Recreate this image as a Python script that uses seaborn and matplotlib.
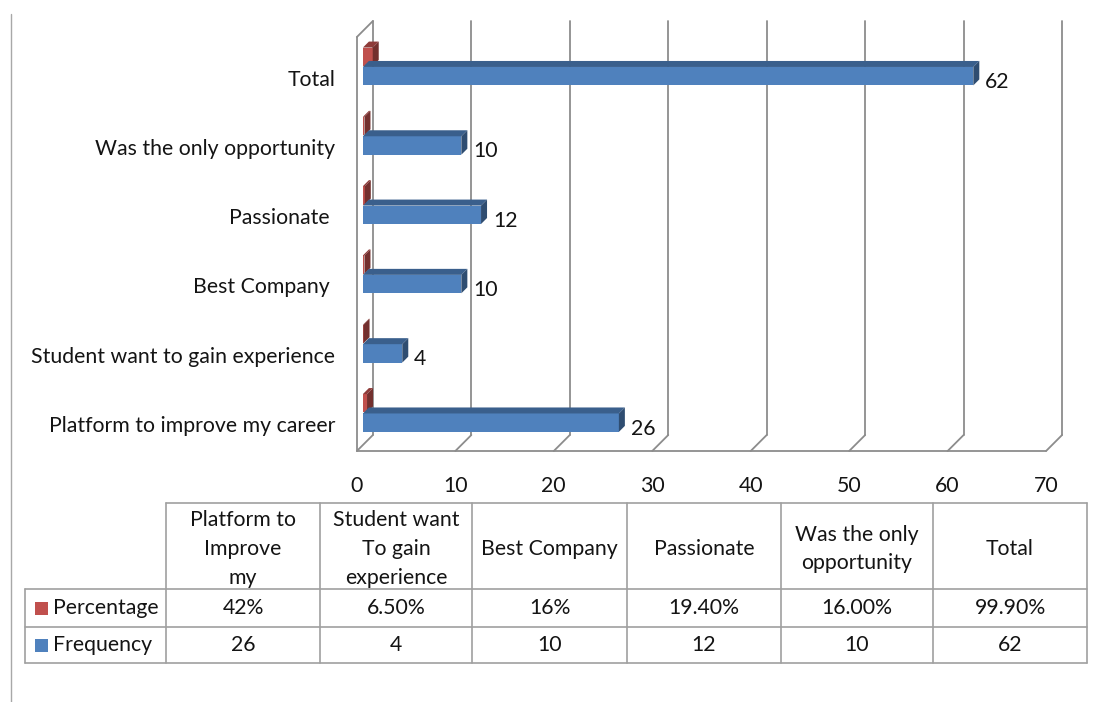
import matplotlib
matplotlib.use("Agg")
import matplotlib.pyplot as plt
from matplotlib.patches import Polygon, Rectangle
import seaborn as sns
import pandas as pd

# ---- data -------------------------------------------------------------
categories = ["Platform to improve my career", "Student want to gain experience",
              "Best Company ", "Passionate ", "Was the only opportunity", "Total"]
table_headers = ["Platform to\nImprove\nmy", "Student want\nTo gain\nexperience",
                 "Best Company", "Passionate", "Was the only\nopportunity", "Total"]
frequency = [26, 4, 10, 12, 10, 62]
percentage_labels = ["42%", "6.50%", "16%", "19.40%", "16.00%", "99.90%"]
series_names = ["Percentage", "Frequency"]
x_ticks = [0, 10, 20, 30, 40, 50, 60, 70]

percentage = [float(s.rstrip("%")) / 100 for s in percentage_labels]

df = pd.DataFrame({
    "category": categories * 2,
    "series": [series_names[0]] * len(categories) + [series_names[1]] * len(categories),
    "value": percentage + frequency,
})

# ---- style ------------------------------------------------------------
RED = "#C0504D"
BLUE = "#4F81BD"
GRID = "#8C8C8C"
TABLE_LINE = "#A0A0A0"
TEXT = "#141414"
FS = 15.3

sns.set_style("white")
plt.rcParams["font.family"] = ["Lato", "DejaVu Sans"]
plt.rcParams["text.color"] = TEXT
plt.rcParams["xtick.color"] = TEXT
plt.rcParams["ytick.color"] = TEXT

W, H = 1095, 702
fig = plt.figure(figsize=(W / 100, H / 100), dpi=100)


def px_box(left, top, right, bottom):
    return [left / W, 1 - bottom / H, (right - left) / W, (bottom - top) / H]


XMIN, XMAX = -0.7, 70.5
YTOP, YBOT = -0.512, 5.462
ax = fig.add_axes(px_box(356, 31, 1057, 445))

BAR_WIDTH = 0.56
sns.barplot(data=df, x="value", y="category", hue="series",
            order=categories[::-1], hue_order=series_names,
            palette=[RED, BLUE], orient="h", width=BAR_WIDTH, gap=0.05,
            saturation=1, errorbar=None, legend=False, ax=ax, linewidth=0)

ax.set_xlim(XMIN, XMAX)
ax.set_ylim(YBOT, YTOP)
for s in ax.spines.values():
    s.set_visible(False)
ax.set_xlabel("")
ax.set_ylabel("")


def data_offset(dx_px, dy_px):
    """Convert a pixel shift (right, down) to a data-space shift."""
    x0, y0 = ax.transData.transform((0, 0))
    x1, y1 = ax.transData.inverted().transform((x0 + dx_px, y0 - dy_px))
    return x1, y1


# planes of the 3-D box: front floor edge and back wall
fdx, fdy = data_offset(-6, 6)
bdx, bdy = data_offset(10, -10)

line_kw = dict(color=GRID, lw=1.3, clip_on=False, zorder=0.5, solid_capstyle="round")
# front floor edge
ax.plot([0 + fdx, 70 + fdx], [YBOT + fdy, YBOT + fdy], **line_kw)
for t in x_ticks:
    # floor diagonal and back-wall gridline
    ax.plot([t + fdx, t + bdx], [YBOT + fdy, YBOT + bdy], **line_kw)
    ax.plot([t + bdx, t + bdx], [YBOT + bdy, YTOP + bdy], **line_kw)
# left wall
ax.plot([0 + fdx, 0 + fdx], [YBOT + fdy, YTOP + fdy], **line_kw)
ax.plot([0 + fdx, 0 + bdx], [YTOP + fdy, YTOP + bdy], **line_kw)

# depth faces for the bars
ddx, ddy = data_offset(6, -6)


def shade(hex_color, f):
    r, g, b = matplotlib.colors.to_rgb(hex_color)
    return (r * f, g * f, b * f)


blue_rgb = matplotlib.colors.to_rgb(BLUE)
blue_bars = []
for p in list(ax.patches):
    x0, y0 = p.get_x(), p.get_y()
    w, h = p.get_width(), p.get_height()
    base = p.get_facecolor()[:3]
    is_blue = all(abs(a - b) < 0.02 for a, b in zip(base, blue_rgb))
    if is_blue:
        blue_bars.append(p)
    col = BLUE if is_blue else RED
    top = Polygon([(x0, y0), (x0 + w, y0), (x0 + w + ddx, y0 + ddy), (x0 + ddx, y0 + ddy)],
                  closed=True, facecolor=shade(col, 0.74), edgecolor="none",
                  clip_on=False, zorder=2)
    side = Polygon([(x0 + w, y0), (x0 + w, y0 + h), (x0 + w + ddx, y0 + h + ddy),
                    (x0 + w + ddx, y0 + ddy)],
                   closed=True, facecolor=shade(col, 0.6), edgecolor="none",
                   clip_on=False, zorder=2)
    ax.add_patch(top)
    ax.add_patch(side)
    p.set_zorder(2)
    p.set_clip_on(False)

# value labels on the frequency bars
for p in blue_bars:
    ax.annotate(f"{p.get_width():g}", xy=(p.get_width(), p.get_y() + p.get_height() / 2),
                xytext=(12 * 0.72, -6 * 0.72), textcoords="offset points",
                ha="left", va="center", fontsize=FS, color=TEXT, annotation_clip=False)

# category labels aligned with the frequency bars
ax.set_yticks([k + BAR_WIDTH / 4 + 0.02 for k in range(len(categories))],
              labels=categories[::-1])
ax.tick_params(axis="y", length=0, pad=15, labelsize=FS)

ax.set_xticks([t + fdx for t in x_ticks], labels=[str(t) for t in x_ticks])
ax.tick_params(axis="x", length=0, pad=22, labelsize=FS)

# ---- data table -------------------------------------------------------
tab = fig.add_axes([0, 0, 1, 1], zorder=-1)
tab.set_xlim(0, W)
tab.set_ylim(H, 0)
tab.axis("off")

col_edges = [25, 166, 320, 472, 627, 781, 933, 1087]
row_edges = [503, 589, 627, 663]
tl = dict(color=TABLE_LINE, lw=1.2)

# horizontal rules
tab.plot([col_edges[1], col_edges[-1]], [row_edges[0]] * 2, **tl)
for y in row_edges[1:]:
    tab.plot([col_edges[0], col_edges[-1]], [y, y], **tl)
# vertical rules
tab.plot([col_edges[0]] * 2, [row_edges[1], row_edges[-1]], **tl)
for x in col_edges[1:]:
    tab.plot([x, x], [row_edges[0], row_edges[-1]], **tl)

centers = [(col_edges[i] + col_edges[i + 1]) / 2 for i in range(1, len(col_edges) - 1)]
hdr_mid = (row_edges[0] + row_edges[1]) / 2 + 3
pct_mid = (row_edges[1] + row_edges[2]) / 2
frq_mid = (row_edges[2] + row_edges[3]) / 2
for cx, hdr, pl, fq in zip(centers, table_headers, percentage_labels, frequency):
    tab.text(cx, hdr_mid, hdr, ha="center", va="center", ma="center",
             fontsize=FS, linespacing=1.55)
    tab.text(cx, pct_mid, pl, ha="center", va="center", fontsize=FS)
    tab.text(cx, frq_mid, str(fq), ha="center", va="center", fontsize=FS)

# legend keys in the row headers
for mid, col, name in [(pct_mid, RED, series_names[0]), (frq_mid, BLUE, series_names[1])]:
    tab.add_patch(Rectangle((35, mid - 6.5), 13, 13, facecolor=col, edgecolor="none"))
    tab.text(53, mid, name, ha="left", va="center", fontsize=FS)

# page margin rule on the left
tab.plot([11, 11], [14, 702], color="#A8A8A8", lw=1.0)

fig.savefig("out.png", dpi=100, facecolor="white")
